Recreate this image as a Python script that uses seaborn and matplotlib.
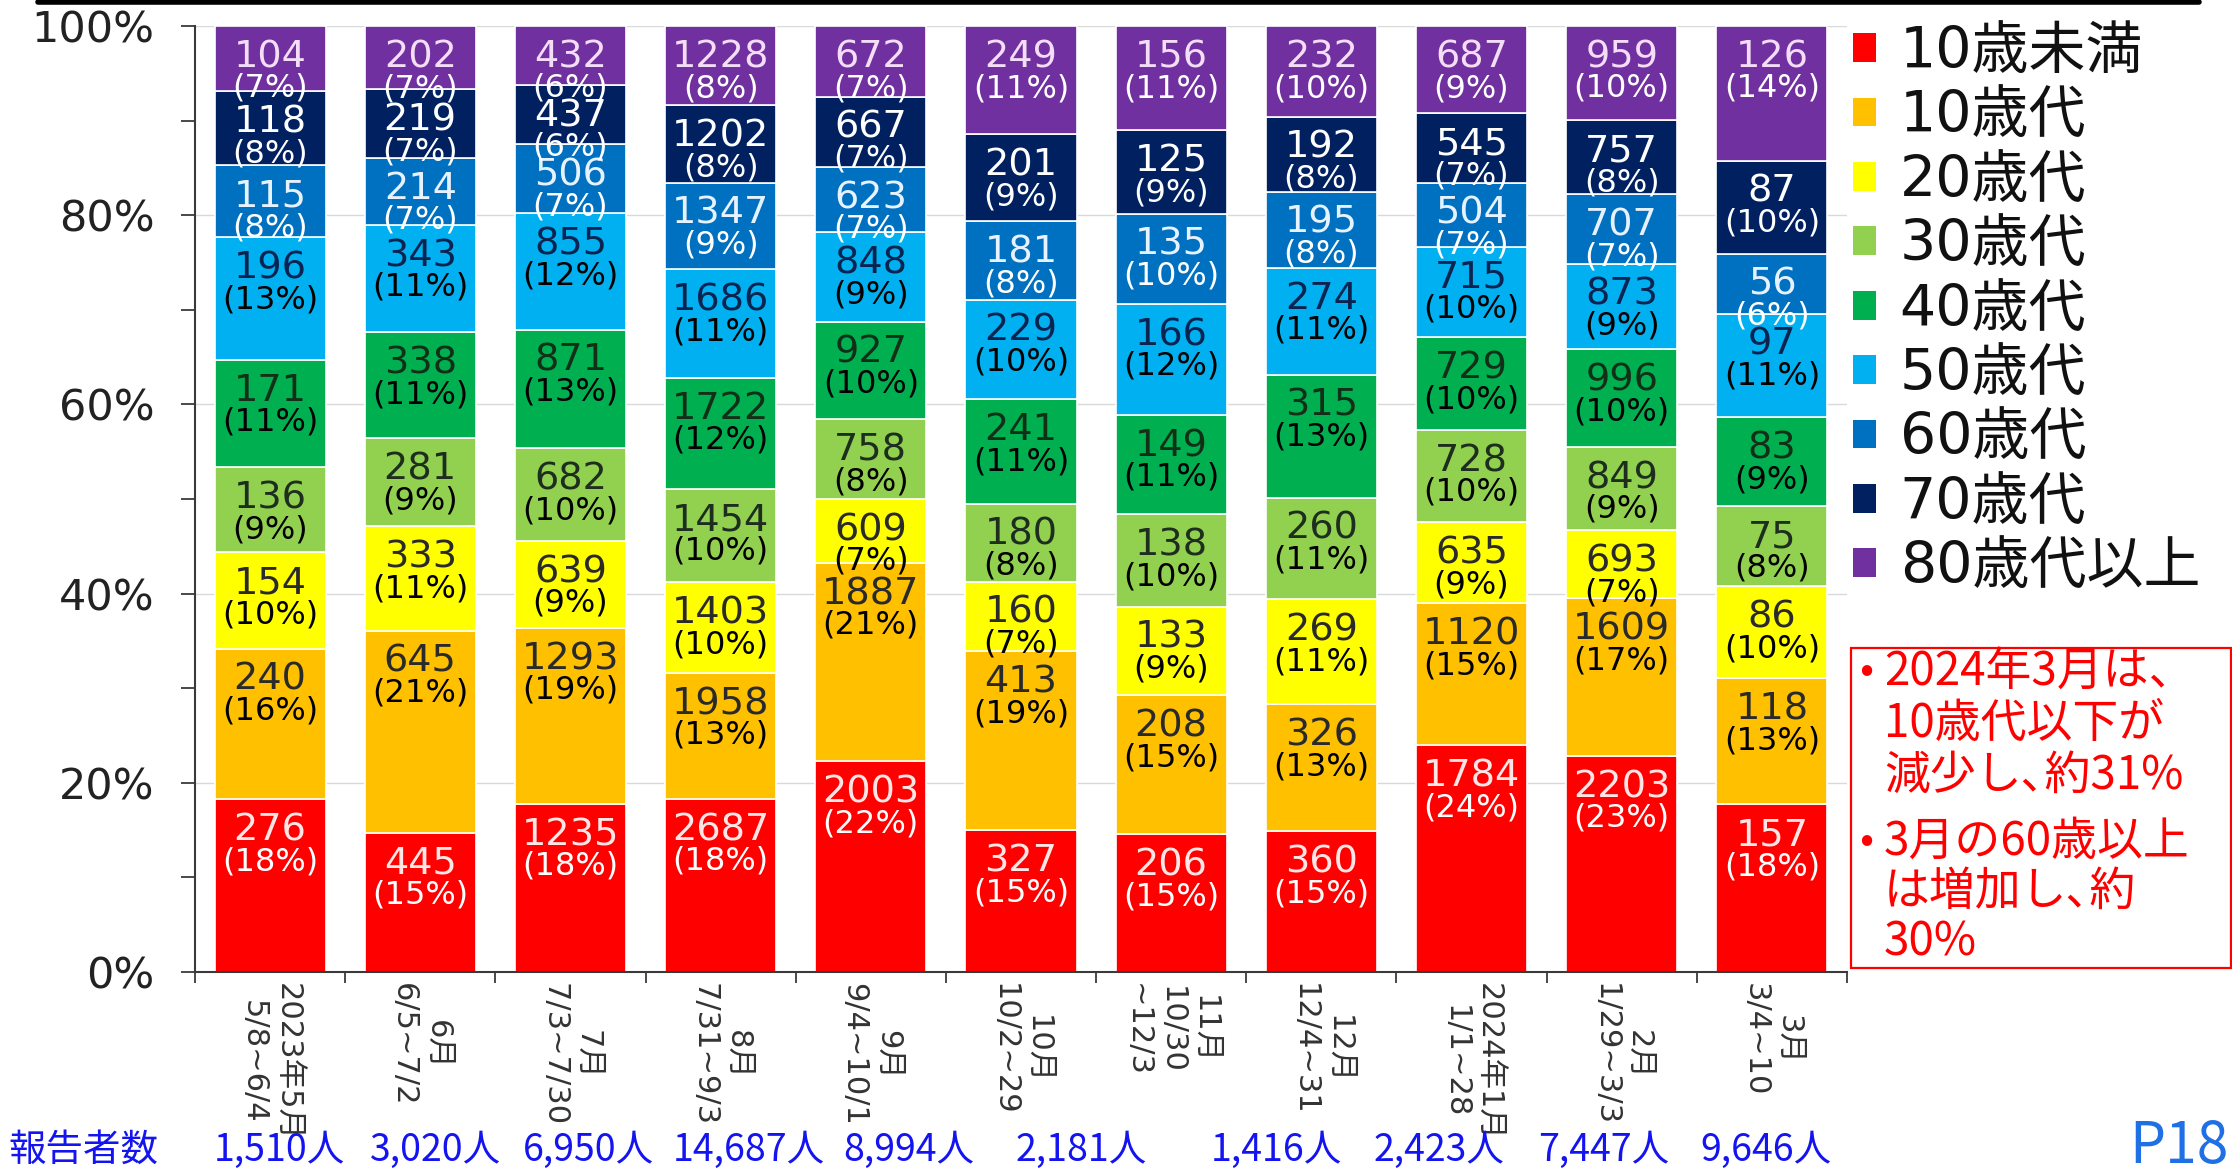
import numpy as np
import pandas as pd
import matplotlib
matplotlib.use("Agg")
import matplotlib.pyplot as plt
import matplotlib.transforms as mtransforms
from matplotlib.patches import Rectangle
from matplotlib.lines import Line2D
import seaborn as sns

# ---------------- data ----------------
months = ["2023年5月\n5/8~6/4", "6月\n6/5~7/2", "7月\n7/3~7/30", "8月\n7/31~9/3",
          "9月\n9/4~10/1", "10月\n10/2~29", "11月\n10/30\n~12/3", "12月\n12/4~31",
          "2024年1月\n1/1~28", "2月\n1/29~3/3", "3月\n3/4~10"]
age_groups = ["10歳未満", "10歳代", "20歳代", "30歳代", "40歳代",
              "50歳代", "60歳代", "70歳代", "80歳代以上"]
under10   = [276, 445, 1235, 2687, 2003, 327, 206, 360, 1784, 2203, 157]
teens     = [240, 645, 1293, 1958, 1887, 413, 208, 326, 1120, 1609, 118]
twenties  = [154, 333, 639, 1403, 609, 160, 133, 269, 635, 693, 86]
thirties  = [136, 281, 682, 1454, 758, 180, 138, 260, 728, 849, 75]
forties   = [171, 338, 871, 1722, 927, 241, 149, 315, 729, 996, 83]
fifties   = [196, 343, 855, 1686, 848, 229, 166, 274, 715, 873, 97]
sixties   = [115, 214, 506, 1347, 623, 181, 135, 195, 504, 707, 56]
seventies = [118, 219, 437, 1202, 667, 201, 125, 192, 545, 757, 87]
eighties  = [104, 202, 432, 1228, 672, 249, 156, 232, 687, 959, 126]
series = [under10, teens, twenties, thirties, forties, fifties, sixties, seventies, eighties]

yticks = [0, 20, 40, 60, 80, 100]
ytick_labels = ["0%", "20%", "40%", "60%", "80%", "100%"]
count_prefix = "報告者数"
# x positions (category units) of the reporter-count texts, as laid out in the source
count_x = [0.06, 1.10, 2.12, 3.19, 4.25, 5.40, 6.70, 7.78, 8.88, 9.96]
note1 = ["2024年3月は、", "10歳代以下が", "減少し､約31%"]
note2 = ["3月の60歳以上", "は増加し､約", "30%"]
page_label = "P18"

# ---------------- styles ----------------
colors = ["#FF0000", "#FFC000", "#FFFF00", "#92D050", "#00B050",
          "#00B0F0", "#0070C0", "#002060", "#7030A0"]
num_colors = ["#FFE6E6", "#2A2A2A", "#2A2A2A", "#1E2E1E", "#123018",
              "#0A2452", "#E6F2FF", "#FFFFFF", "#F4DDF6"]
pct_colors = ["#FFFFFF", "#000000", "#000000", "#000000", "#000000",
              "#000000", "#FFFFFF", "#FFFFFF", "#FFFFFF"]

sns.set_style("white")
plt.rcParams['font.family'] = ['Noto Sans CJK JP', 'DejaVu Sans']
WIDE = ['DejaVu Sans', 'Noto Sans CJK JP']

W, H = 2232, 1173
fig = plt.figure(figsize=(W / 100, H / 100), dpi=100)
fig.patch.set_facecolor("white")

def fx(px):
    return px / W

def fy(py):
    return 1 - py / H

ax = fig.add_axes([fx(195), fy(972), fx(1847) - fx(195), fy(26) - fy(972)])

totals = np.sum(np.array(series), axis=0)
bottom = np.zeros(len(months))
for grp, vals, col, ncol, pcol in zip(age_groups, series, colors, num_colors, pct_colors):
    vals = np.array(vals)
    pct = vals / totals * 100
    sns.barplot(x=months, y=pct, order=months, color=col, saturation=1,
                width=0.74, bottom=bottom.copy(), label=grp, errorbar=None,
                edgecolor="white", linewidth=1.2, ax=ax)
    top = bottom + pct
    for i, (v, p, t) in enumerate(zip(vals, pct, top)):
        ax.annotate(f"{v}", xy=(i, t), xytext=(0, -22.5), textcoords="offset points",
                    ha="center", va="center", fontsize=27.5, color=ncol, family=WIDE)
        ax.annotate(f"({int(np.floor(p + 0.5))}%)", xy=(i, t), xytext=(0, -45),
                    textcoords="offset points", ha="center", va="center",
                    fontsize=23, color=pcol, family=WIDE)
    bottom = top

# axes styling
ax.set_xlim(-0.5, len(months) - 0.5)
ax.set_ylim(0, 100)
ax.set_xlabel("")
ax.set_ylabel("")
for s in ["top", "right"]:
    ax.spines[s].set_visible(False)
for s in ["left", "bottom"]:
    ax.spines[s].set_color("#3A3A3A")
    ax.spines[s].set_linewidth(1.5)

ax.set_yticks(yticks)
ax.set_yticklabels(ytick_labels, family=WIDE, fontsize=31, color="#222222")
ax.set_yticks([10, 30, 50, 70, 90], minor=True)
ax.tick_params(axis="y", which="both", direction="out", length=10, width=1.3,
               color="#3A3A3A", pad=19, left=True)

ax.set_xticks(range(len(months)))
ax.set_xticklabels(months, rotation=-90, ha="center", va="top", multialignment="center",
                   family=WIDE, fontsize=22, color="#333333")
ax.set_xticks(np.arange(-0.5, len(months), 1), minor=True)
ax.tick_params(axis="x", which="major", length=0, pad=8)
ax.tick_params(axis="x", which="minor", direction="out", length=8, width=1.3,
               color="#3A3A3A", bottom=True)

ax.yaxis.grid(True, color="#D9D9D9", linewidth=1)
ax.xaxis.grid(False)
ax.set_axisbelow(True)

# legend
leg = ax.legend(loc="upper left", bbox_to_anchor=(fx(1853), fy(25)),
                bbox_transform=fig.transFigure, frameon=False, fontsize=41,
                handlelength=0.4, handleheight=0.4, handletextpad=0.42,
                labelspacing=0.165, borderaxespad=0, borderpad=0)
for t in leg.get_texts():
    t.set_fontfamily(WIDE)
    t.set_color("#111111")
for h in leg.legend_handles:
    h.set_edgecolor("none")

# reporter counts row
blend = mtransforms.blended_transform_factory(ax.transData, fig.transFigure)
fig.text(fx(8), fy(1150), count_prefix, ha="left", va="center", fontsize=27,
         color="#1414F0")
for xi, tot in zip(count_x, totals[:len(count_x)]):
    ax.text(xi, fy(1150), f"{tot:,}人", transform=blend, ha="center", va="center",
            fontsize=27, color="#1414F0", clip_on=False)

# note box
fig.add_artist(Rectangle((fx(1851), fy(968)), fx(2231) - fx(1851), fy(648) - fy(968),
                         transform=fig.transFigure, fill=False, edgecolor="#FF0000",
                         linewidth=1.6))
for lines, ys in ((note1, [672, 724, 776]), (note2, [842, 892, 942])):
    fig.text(fx(1866), fy(ys[0]), "•", ha="center", va="center", fontsize=30, color="#FF0000")
    for line, yy in zip(lines, ys):
        fig.text(fx(1884), fy(yy), line, ha="left", va="center", fontsize=33, color="#FF0000")

# page number
fig.text(fx(2229), fy(1163), page_label, ha="right", va="baseline", fontsize=41,
         color="#1F6FE5")

# top rule (slide header underline)
fig.add_artist(Line2D([fx(38), fx(2199)], [fy(2), fy(2)], transform=fig.transFigure,
                      color="black", linewidth=4))

fig.savefig("out.png", dpi=100, facecolor="white")
